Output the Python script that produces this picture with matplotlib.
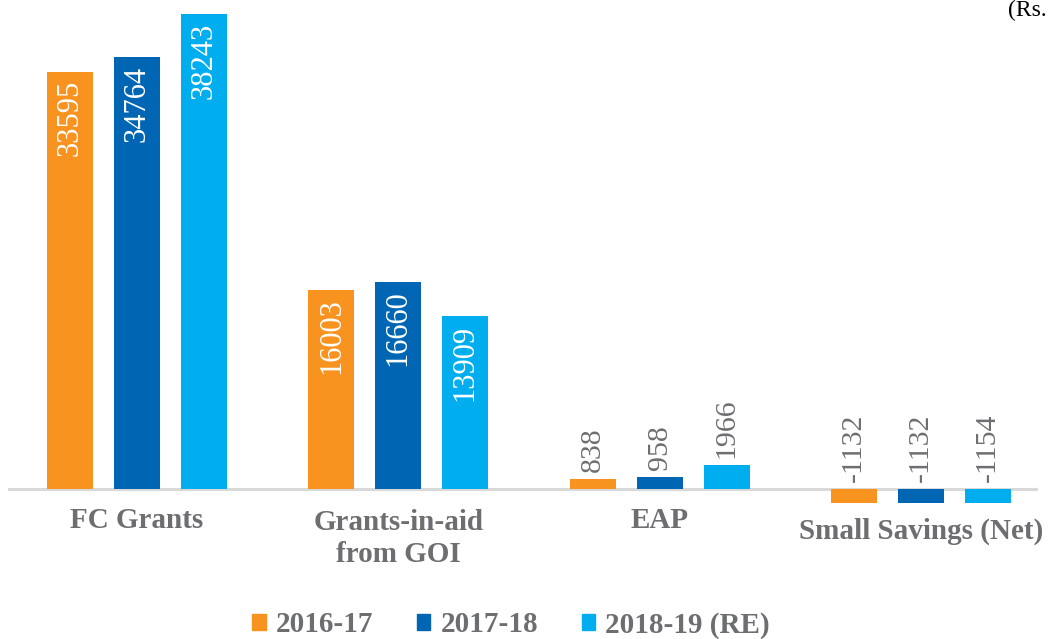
import numpy as np
import matplotlib.pyplot as plt
from matplotlib.patches import Patch

# datos
categorias = ["FC Grants", "Grants-in-aid\nfrom GOI", "EAP", "Small Savings (Net)"]
anios = ["2016-17", "2017-18", "2018-19 (RE)"]
v_2016 = [33595, 16003, 838, -1132]
v_2017 = [34764, 16660, 958, -1132]
v_2018 = [38243, 13909, 1966, -1154]
series = [v_2016, v_2017, v_2018]
colores = ["#F7931E", "#0066B3", "#00AEEF"]
gris = "#6D6E71"

plt.rcParams['font.family'] = ['Liberation Serif', 'DejaVu Serif']

fig = plt.figure(figsize=(10.56, 6.39), dpi=100)
# ejes ubicados en pixeles para calzar con la referencia
ax = fig.add_axes([8/1056, 1 - 505.2/639, 1030/1056, 491.2/639])

x = np.arange(len(categorias))
ancho = 0.176
desp = 0.256
for i, vals in enumerate(series):
    xs = x + (i - 1) * desp
    ax.bar(xs, vals, width=ancho, color=colores[i], zorder=2)
    for xi, v in zip(xs, vals):
        if v > 5000:
            ax.annotate(str(v), (xi, v), xytext=(0, -6), textcoords='offset points',
                        rotation=90, ha='center', va='top', color='white', fontsize=22)
        else:
            ax.annotate(str(v), (xi, max(v, 0)), xytext=(0, 5), textcoords='offset points',
                        rotation=90, ha='center', va='bottom', color=gris, fontsize=21.5)

ax.axhline(0, color='#D9D9D9', lw=2.2, zorder=1)
ax.set_xlim(-0.494, 3.448)
ax.set_ylim(-1300, 38243)
ax.axis('off')

# etiquetas de categorias
ypos = [521, 538.5, 521, 531]
for xi, cat, yp in zip(x, categorias, ypos):
    ax.annotate(cat, (xi, 639 - yp), xycoords=('data', 'figure pixels'),
                ha='center', va='center', fontsize=21, fontweight='bold',
                color=gris, linespacing=1.2)

# leyenda
handles = [Patch(color=c) for c in colores]
fig.legend(handles, anios, loc='center', bbox_to_anchor=(511/1056, 1 - 625/639), ncol=3,
           frameon=False, handlelength=0.45, handleheight=0.45, handletextpad=0.35,
           columnspacing=1.5, prop={'size': 21, 'weight': 'bold'}, labelcolor=gris)

fig.text(1008/1056, 1 - 10/639, "(Rs.", ha='left', va='center', fontsize=17, color='black')

fig.savefig('out.png', dpi=100)
